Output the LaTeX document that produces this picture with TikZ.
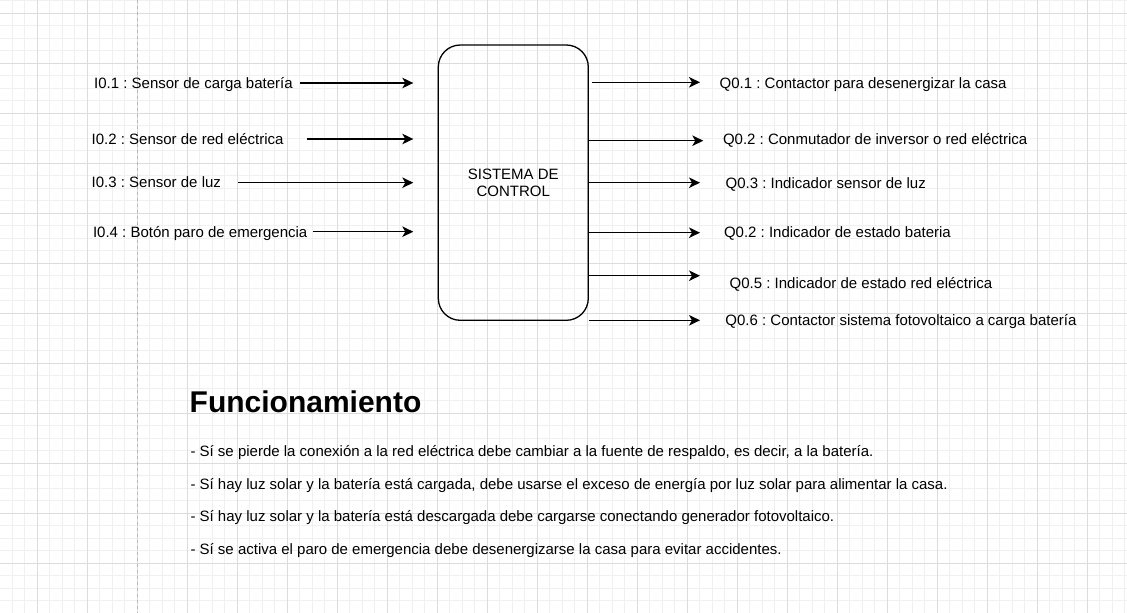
\documentclass[tikz,border=0pt]{standalone}
\usepackage{fontspec}
\setmainfont{Liberation Sans}
\frenchspacing
\usetikzlibrary{arrows.meta}
\definecolor{minorgrid}{HTML}{F0F0F0}
\definecolor{majorgrid}{HTML}{DCDCDC}
\definecolor{pagebreak}{HTML}{B8B8B8}
\begin{document}
\begin{tikzpicture}[x=1pt,y=-1pt,
  lbl/.style={anchor=base west, inner sep=0pt, font=\fontsize{15}{18}\selectfont},
  conn/.style={line width=1.3pt, -{Stealth[length=11pt,width=10.5pt,inset=3pt]}},
  ctrlbox/.style={draw, line width=1.3pt, rounded corners=22pt, minimum width=150pt,
    minimum height=275.3pt, inner sep=0pt, align=center,
    font=\fontsize{15}{17.5}\selectfont},
  headtext/.style={anchor=base west, inner sep=0pt, font=\bfseries\fontsize{30}{36}\selectfont}]
\useasboundingbox (0,0) rectangle (1127,613);
\fill[white] (0,0) rectangle (1127,613);
% grid
\foreach \k in {0,...,90} {\draw[minorgrid, line width=1pt] ({-0.2+12.5*\k},0) -- ({-0.2+12.5*\k},613);}
\foreach \k in {0,...,48} {\draw[minorgrid, line width=1pt] (0,{0.8+12.5*\k}) -- (1127,{0.8+12.5*\k});}
\foreach \k in {0,...,21} {\draw[majorgrid, line width=1pt] ({37.3+50*\k},0) -- ({37.3+50*\k},613);}
\foreach \k in {0,...,11} {\draw[majorgrid, line width=1pt] (0,{13.3+50*\k}) -- (1127,{13.3+50*\k});}
\draw[pagebreak, line width=1pt, dash pattern=on 3pt off 3pt] (137.3,0) -- (137.3,613);

% control box
\node[ctrlbox] (ctrl) at (513.3,182.65) {SISTEMA DE\\CONTROL};

% inputs
\node[lbl] (i1) at (94,88.3) {I0.1 : Sensor de carga batería};
\node[lbl] (i2) at (91.5,144) {I0.2 : Sensor de red eléctrica};
\node[lbl] (i3) at (91.5,187.7) {I0.3 : Sensor de luz};
\node[lbl] (i4) at (92.8,237.3) {I0.4 : Botón paro de emergencia};
\coordinate (i1s) at (300,83);   \coordinate (i1e) at (413.3,83);
\coordinate (i2s) at (307,139);  \coordinate (i2e) at (413.3,139);
\coordinate (i3s) at (237.7,182.7); \coordinate (i3e) at (413.3,182.7);
\coordinate (i4s) at (313.3,231.7); \coordinate (i4e) at (413.3,231.7);
\draw[conn] (i1s) -- (i1e);
\draw[conn] (i2s) -- (i2e);
\draw[conn] (i3s) -- (i3e);
\draw[conn] (i4s) -- (i4e);

% outputs
\coordinate (o1s) at (591.7,82.3);  \coordinate (o1e) at (700,82.3);
\coordinate (o2e) at (703.3,140.7);
\coordinate (o3e) at (700,182.7);
\coordinate (o4e) at (700,232.7);
\coordinate (o5e) at (700,275.7);
\coordinate (o6s) at (589,320.3);   \coordinate (o6e) at (700,320.3);
\draw[conn] (o1s) -- (o1e);
\draw[conn] (ctrl.east |- o2e) -- (o2e);
\draw[conn] (ctrl.east |- o3e) -- (o3e);
\draw[conn] (ctrl.east |- o4e) -- (o4e);
\draw[conn] (ctrl.east |- o5e) -- (o5e);
\draw[conn] (o6s) -- (o6e);
\node[lbl] (o1) at (719.5,88.7) {Q0.1 : Contactor para desenergizar la casa};
\node[lbl] (o2) at (722.8,144.7) {Q0.2 : Conmutador de inversor o red eléctrica};
\node[lbl] (o3) at (725.5,188) {Q0.3 : Indicador sensor de luz};
\node[lbl] (o4) at (723.8,237.7) {Q0.2 : Indicador de estado bateria};
\node[lbl] (o5) at (729.5,288.3) {Q0.5 : Indicador de estado red eléctrica};
\node[lbl] (o6) at (725.2,325.7) {Q0.6 : Contactor sistema fotovoltaico a carga batería};

% description
\node[headtext] (head) at (189.5,412.3) {Funcionamiento};
\node[lbl] (b1) at (190.3,456) {- Sí se pierde la conexión a la red eléctrica debe cambiar a la fuente de respaldo, es decir, a la batería.};
\node[lbl] (b2) at (190.3,489) {- Sí hay luz solar y la batería está cargada, debe usarse el exceso de energía por luz solar para alimentar la casa.};
\node[lbl] (b3) at (190.3,521.7) {- Sí hay luz solar y la batería está descargada debe cargarse conectando generador fotovoltaico.};
\node[lbl] (b4) at (190.3,554.3) {- Sí se activa el paro de emergencia debe desenergizarse la casa para evitar accidentes.};
\end{tikzpicture}
\end{document}
